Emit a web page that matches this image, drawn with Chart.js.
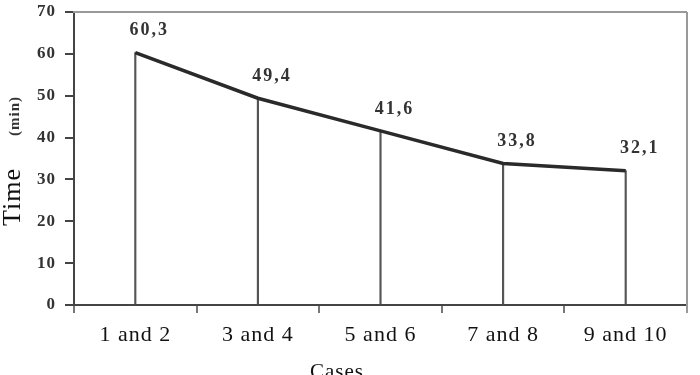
<!DOCTYPE html>
<html>
<head>
<meta charset="utf-8">
<script src="https://cdn.jsdelivr.net/npm/chart.js@4"></script>
<style>
  html, body { margin: 0; padding: 0; background: #fff; }
  #wrap { width: 700px; height: 375px; }
</style>
</head>
<body>
<div id="wrap"><canvas id="timeChart"></canvas></div>
<script>
const cases = ['1 and 2', '3 and 4', '5 and 6', '7 and 8', '9 and 10'];
const times = [60.3, 49.4, 41.6, 33.8, 32.1];
const yTicks = [0, 10, 20, 30, 40, 50, 60, 70];

const SERIF = "'Liberation Serif', 'Times New Roman', serif";

// frame, value labels and axis titles
const decorations = {
    id: 'decorations',
    beforeDraw(chart) {
        chart.ctx.letterSpacing = '1px';
    },
    afterDraw(chart) {
        const ctx = chart.ctx;
        const area = chart.chartArea;
        ctx.save();

        // grey top and right border
        ctx.strokeStyle = '#999';
        ctx.lineWidth = 2;
        ctx.beginPath();
        ctx.moveTo(area.left - 1, area.top);
        ctx.lineTo(area.right, area.top);
        ctx.moveTo(area.right, area.top);
        ctx.lineTo(area.right, area.bottom + 8);
        ctx.stroke();

        // value labels
        const meta = chart.getDatasetMeta(1);
        ctx.letterSpacing = '2px';
        ctx.font = `bold 18px ${SERIF}`;
        ctx.fillStyle = '#333';
        ctx.textAlign = 'center';
        ctx.textBaseline = 'middle';
        meta.data.forEach((pt, i) => {
            const txt = times[i].toFixed(1).replace('.', ',');
            ctx.fillText(txt, pt.x + 14, pt.y - 22);
        });

        // y title: "Time" + small "(min)"
        ctx.letterSpacing = '1px';
        ctx.save();
        ctx.translate(13, 197);
        ctx.rotate(-Math.PI / 2);
        ctx.font = `26px ${SERIF}`;
        ctx.fillStyle = '#111';
        ctx.fillText('Time', 0, 0);
        ctx.restore();

        ctx.save();
        ctx.translate(15, 116);
        ctx.rotate(-Math.PI / 2);
        ctx.font = `bold 15px ${SERIF}`;
        ctx.fillStyle = '#333';
        ctx.fillText('(min)', 0, 0);
        ctx.restore();

        // x title
        ctx.font = `21px ${SERIF}`;
        ctx.fillStyle = '#111';
        ctx.textBaseline = 'top';
        ctx.fillText('Cases', 337, 362);

        ctx.restore();
    }
};

const ctx = document.getElementById('timeChart').getContext('2d');
new Chart(ctx, {
    type: 'bar',
    data: {
        labels: cases,
        datasets: [
            {
                // vertical drop lines
                type: 'bar',
                data: times,
                backgroundColor: '#555',
                barThickness: 1.5,
                order: 2
            },
            {
                type: 'line',
                data: times,
                borderColor: '#2a2a2a',
                borderWidth: 3.5,
                pointRadius: 0,
                tension: 0,
                order: 1
            }
        ]
    },
    options: {
        responsive: true,
        maintainAspectRatio: false,
        animation: false,
        devicePixelRatio: 1,
        layout: {
            padding: { top: 12, right: 13, left: 0, bottom: 0 }
        },
        plugins: {
            legend: { display: false },
            tooltip: { enabled: false }
        },
        scales: {
            x: {
                offset: true,
                grid: {
                    display: true,
                    drawOnChartArea: false,
                    offset: true,
                    tickLength: 8,
                    color: '#777',
                    lineWidth: 2
                },
                border: { color: '#444', width: 2 },
                ticks: {
                    color: '#111',
                    padding: 9,
                    maxRotation: 0,
                    font: { family: SERIF, size: 22 }
                },
                afterFit(scale) {
                    scale.height = 70;
                    scale.paddingLeft = 0;
                    scale.paddingRight = 0;
                }
            },
            y: {
                min: 0,
                max: 70,
                afterBuildTicks(scale) {
                    scale.ticks = yTicks.map(v => ({ value: v }));
                },
                grid: {
                    display: true,
                    drawOnChartArea: false,
                    tickLength: 9,
                    color: '#444',
                    lineWidth: 2
                },
                border: { color: '#444', width: 2 },
                ticks: {
                    color: '#333',
                    padding: 9,
                    font: { family: SERIF, size: 17, weight: 'bold' }
                },
                afterFit(scale) {
                    scale.width = 74;
                    scale.paddingTop = 0;
                    scale.paddingBottom = 0;
                }
            }
        }
    },
    plugins: [decorations]
});
</script>
</body>
</html>
